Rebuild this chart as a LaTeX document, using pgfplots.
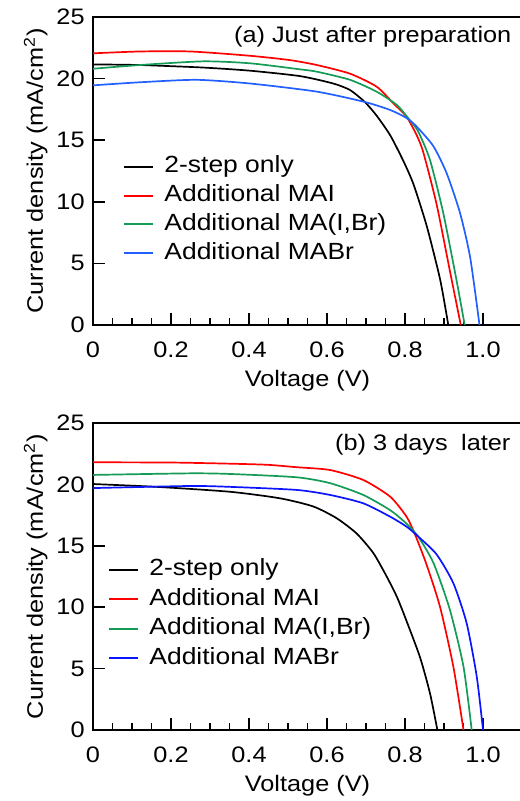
\documentclass[border=0pt]{standalone}
\usepackage{pgfplots}
\pgfplotsset{compat=1.18}
\usepackage{fontspec}
\setmainfont{Liberation Sans}[FakeStretch=1.13]
\definecolor{cgreen}{RGB}{20,155,85}
\definecolor{cbluea}{RGB}{35,95,255}
\definecolor{cblueb}{RGB}{10,20,255}
\definecolor{cred}{RGB}{255,0,0}
\newcommand{\mf}{\fontsize{11.2}{13}\selectfont}
\newcommand{\lf}{\fontsize{11.7}{14}\selectfont}
\pgfplotsset{
  jvstyle/.style={
    scale only axis,
    width=214.5pt,
    xmin=0, xmax=1.1, ymin=0, ymax=25,
    axis line style={line width=0.9pt},
    every tick/.style={black, line width=0.8pt},
    tick align=inside,
    xtick pos=bottom, ytick pos=left,
    major tick length=6pt, minor tick length=3.5pt,
    xtick={0,0.2,0.4,0.6,0.8,1.0},
    xticklabels={0,0.2,0.4,0.6,0.8,1.0},
    minor x tick num=3,
    ytick={0,5,10,15,20,25},
    /pgf/number format/assume math mode=true,
    tick label style={font=\mf},
    xticklabel style={inner sep=0pt, anchor=north, yshift=-8.3pt},
    yticklabel style={inner sep=0pt, anchor=east, xshift=-4pt},
    label style={font=\mf},
    xlabel={Voltage (V)},
    ylabel={Current density (mA/cm\textsuperscript{2})},
    xlabel style={at={(axis description cs:0.5,0)}, anchor=north, inner sep=0pt, yshift=-22.5pt},
    ylabel style={at={(axis description cs:-0.105,0.5)}, anchor=south, inner sep=0pt},
    legend cell align=left,
    legend style={draw=none, fill=none, inner sep=0pt, row sep=3.7pt,
      font=\lf,
      nodes={inner sep=0pt, text height=8.3pt, text depth=2.4pt}},
    /tikz/every odd column/.append style={column sep=5pt},
    legend image code/.code={\draw[#1, line width=1pt] (0pt,0pt) -- (14.5pt,0pt);},
    every axis plot/.append style={line width=0.85pt, smooth, tension=0.4, no marks},
  }
}
\begin{document}
\begin{tikzpicture}
\useasboundingbox (0,0) rectangle (259.5pt,400.5pt);
% (a)
\begin{axis}[jvstyle, height=154pt, at={(46.5pt,238pt)}, anchor=south west,
  legend style={at={(axis cs:0.077,13.74)}, anchor=north west}]
\addplot[black] coordinates {(0,21.15) (0.12,21.1) (0.28,20.9) (0.403,20.64) (0.531,20.2) (0.616,19.6) (0.659,19.07) (0.697,18.1) (0.727,17.0) (0.762,15.4) (0.796,13.3) (0.822,11.4) (0.856,8.0) (0.890,3.7) (0.911,0)};
\addlegendentry{2-step only}
\addplot[cred] coordinates {(0,22.05) (0.12,22.2) (0.25,22.2) (0.403,21.85) (0.505,21.5) (0.574,21.1) (0.659,20.4) (0.727,19.35) (0.770,18.0) (0.804,16.9) (0.830,15.4) (0.847,14.0) (0.881,9.8) (0.915,4.4) (0.943,0)};
\addlegendentry{Additional MAI}
\addplot[cgreen] coordinates {(0,20.8) (0.12,21.1) (0.283,21.4) (0.403,21.24) (0.531,20.75) (0.574,20.56) (0.659,19.9) (0.727,18.94) (0.779,17.86) (0.813,16.6) (0.834,15.7) (0.864,13.4) (0.898,9.1) (0.932,3.65) (0.953,0)};
\addlegendentry{Additional MA(I,Br)}
\addplot[cbluea] coordinates {(0,19.45) (0.12,19.7) (0.265,19.9) (0.403,19.6) (0.574,18.94) (0.697,18.1) (0.762,17.45) (0.804,16.8) (0.830,16.1) (0.873,14.5) (0.907,12.3) (0.941,9.1) (0.967,5.5) (0.991,0)};
\addlegendentry{Additional MABr}
\node[anchor=base east, inner sep=0pt, font=\mf] at (rel axis cs:0.976,0.9166) {(a) Just after preparation};
\end{axis}
% (b)
\begin{axis}[jvstyle, height=153.5pt, at={(46.5pt,35.5pt)}, anchor=south west,
  legend style={at={(axis cs:0.0385,13.93)}, anchor=north west, row sep=4.0pt}]
\addplot[black] coordinates {(0,20.03) (0.163,19.8) (0.351,19.4) (0.479,18.87) (0.565,18.2) (0.625,17.24) (0.676,16.0) (0.719,14.4) (0.753,12.5) (0.779,10.86) (0.8,9.2) (0.838,5.97) (0.864,3.0) (0.883,0)};
\addlegendentry{2-step only}
\addplot[cred] coordinates {(0,21.8) (0.2,21.78) (0.333,21.7) (0.445,21.6) (0.522,21.4) (0.608,21.17) (0.693,20.36) (0.762,19.0) (0.804,17.37) (0.826,15.9) (0.856,13.4) (0.890,10.0) (0.924,5.15) (0.950,0)};
\addlegendentry{Additional MAI}
\addplot[cgreen] coordinates {(0,20.77) (0.249,20.9) (0.351,20.85) (0.522,20.58) (0.608,20.1) (0.693,19.14) (0.762,17.9) (0.804,16.8) (0.834,15.74) (0.873,13.6) (0.915,9.8) (0.950,5.15) (0.971,0)};
\addlegendentry{Additional MA(I,Br)}
\addplot[cblueb] coordinates {(0,19.7) (0.249,19.87) (0.351,19.8) (0.522,19.55) (0.608,19.14) (0.693,18.46) (0.762,17.37) (0.804,16.56) (0.834,15.75) (0.881,14.3) (0.924,11.95) (0.958,8.7) (0.984,4.34) (1.0,0)};
\addlegendentry{Additional MABr}
\node[anchor=base east, inner sep=0pt, font=\mf] at (rel axis cs:0.974,0.9098) {(b) 3 days\hspace{0.6em}later};
\end{axis}
\end{tikzpicture}
\end{document}
